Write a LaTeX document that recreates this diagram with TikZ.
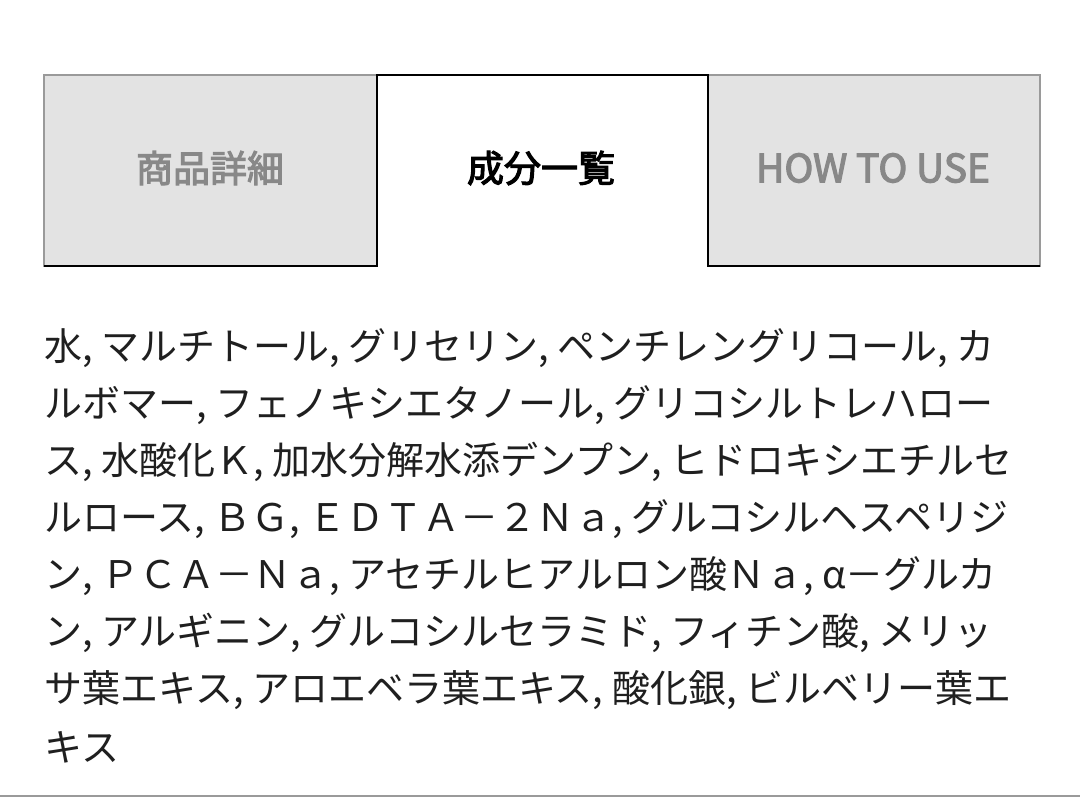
\documentclass[tikz,border=0pt]{standalone}
\usepackage{fontspec}
\setmainfont{Noto Sans CJK JP}
\newfontfamily\jpb{Noto Sans CJK JP}[FakeBold=3]
\begin{document}
\begin{tikzpicture}[x=1pt,y=-1pt,
  tabgray/.style={fill=tabfill,draw=tabedge,line width=1.5pt},
  tablabel/.style={font=\jpb\fontsize{37}{42}\selectfont},
  bodyline/.style={anchor=west,inner sep=0pt,font=\fontsize{38}{44}\selectfont,text=black!88}]
\definecolor{tabfill}{HTML}{E3E3E3}
\definecolor{tabedge}{HTML}{9A9A9A}
\definecolor{tabtext}{HTML}{888888}
\useasboundingbox (0,0) rectangle (1080,797);
\fill[white] (0,0) rectangle (1080,797);
\draw[tabgray] (44,75) rectangle (377,266);
\draw[tabgray] (708,75) rectangle (1040,266);
\draw[line width=2pt] (44,266) -- (377,266) -- (377,75) -- (708,75) -- (708,266) -- (1040,266);
\node[tablabel,text=tabtext] (t1) at (210,168) {商品詳細};
\node[tablabel,text=black] (t2) at (541,168) {成分一覧};
\node[tablabel,text=tabtext] (t3) at (873,168) {\fontsize{39}{42}\selectfont HOW TO USE};
\node[bodyline] (l1) at (44,348) {水, マルチトール, グリセリン, ペンチレングリコール, カ};
\node[bodyline] (l2) at (44,405) {ルボマー, フェノキシエタノール, グリコシルトレハロー};
\node[bodyline] (l3) at (44,462) {ス, 水酸化Ｋ, 加水分解水添デンプン, ヒドロキシエチルセ};
\node[bodyline] (l4) at (44,519) {ルロース, ＢＧ, ＥＤＴＡ－２Ｎａ, グルコシルヘスペリジ};
\node[bodyline] (l5) at (44,576) {ン, ＰＣＡ－Ｎａ, アセチルヒアルロン酸Ｎａ, α－グルカ};
\node[bodyline] (l6) at (44,633) {ン, アルギニン, グルコシルセラミド, フィチン酸, メリッ};
\node[bodyline] (l7) at (44,690) {サ葉エキス, アロエベラ葉エキス, 酸化銀, ビルベリー葉エ};
\node[bodyline] (l8) at (44,747) {キス};
\draw[tabedge,line width=1.5pt] (0,796) -- (1080,796);
\end{tikzpicture}
\end{document}
